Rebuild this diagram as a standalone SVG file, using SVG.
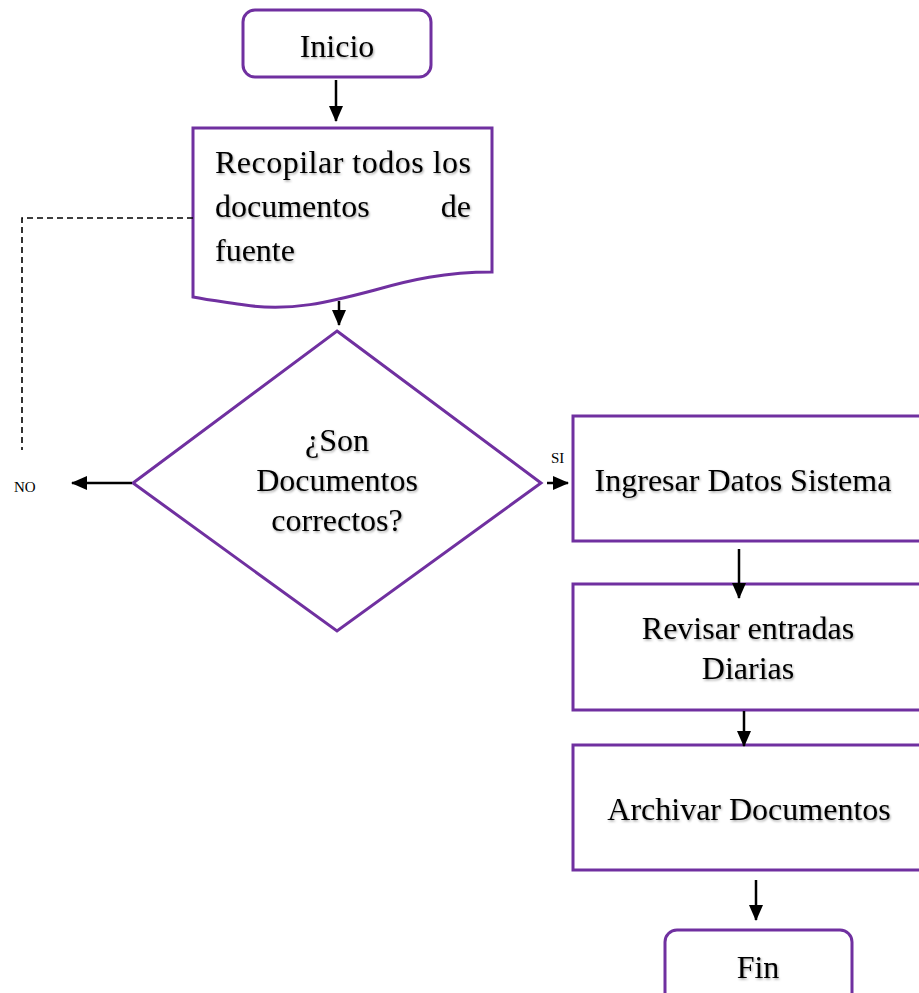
<svg xmlns="http://www.w3.org/2000/svg" width="919" height="993" viewBox="0 0 919 993">
<defs>
<marker id="ah" markerWidth="16" markerHeight="14" refX="15" refY="7" orient="auto" markerUnits="userSpaceOnUse"><path d="M0,0 L16,7 L0,14 Z" fill="#000"/></marker>
<filter id="sh" x="-10%" y="-10%" width="120%" height="130%"><feDropShadow dx="1" dy="1.5" stdDeviation="1" flood-color="#000" flood-opacity="0.35"/></filter>
</defs>
<style>
.n{fill:#fff;stroke:#7030A0;stroke-width:3}
.t{font-family:"Liberation Serif",serif;font-size:32px;fill:#000;filter:url(#sh)}
.c{text-anchor:middle}
.s{font-family:"Liberation Serif",serif;font-size:15px;fill:#000}
.a{stroke:#000;stroke-width:2.5;fill:none;marker-end:url(#ah)}
</style>
<rect width="919" height="993" fill="#fff"/>
<g id="inicio">
<rect class="n" x="243" y="10" width="188" height="67" rx="12"/>
<text class="t c" x="337" y="57">Inicio</text>
</g>
<g id="recopilar">
<path class="n" d="M193,128 H492 V272 C445,272 410,280 375,290 C330,302 290,312 245,305 C225,302 208,300 193,297 Z"/>
<text class="t" x="215" y="173" textLength="256" lengthAdjust="spacing">Recopilar todos los</text>
<text class="t" x="215" y="217">documentos</text>
<text class="t" x="471" y="217" text-anchor="end">de</text>
<text class="t" x="215" y="261">fuente</text>
</g>
<g id="decision">
<path class="n" d="M337,331 L541,483 L337,631 L133,483 Z"/>
<text class="t c" x="337" y="451">¿Son</text>
<text class="t c" x="337" y="491">Documentos</text>
<text class="t c" x="337" y="531">correctos?</text>
</g>
<g id="no-label"><text class="s" x="14" y="492">NO</text></g>
<g id="si-label"><text class="s" x="551" y="463">SI</text></g>
<g id="ingresar">
<rect class="n" x="573" y="416" width="360" height="125"/>
<text class="t c" x="743" y="491">Ingresar Datos Sistema</text>
</g>
<g id="revisar">
<rect class="n" x="573" y="584" width="360" height="126"/>
<text class="t c" x="748" y="639">Revisar entradas</text>
<text class="t c" x="748" y="679">Diarias</text>
</g>
<g id="archivar">
<rect class="n" x="573" y="745" width="360" height="125"/>
<text class="t c" x="749" y="820">Archivar Documentos</text>
</g>
<g id="fin">
<rect class="n" x="665" y="930" width="187" height="80" rx="12"/>
<text class="t c" x="758" y="978">Fin</text>
</g>
<g id="connectors">
<path class="a" d="M336,80 V121"/>
<path d="M193,218 H22 V450" stroke="#000" stroke-width="1.6" stroke-dasharray="6,4" fill="none"/>
<path class="a" d="M339,301 V325"/>
<path class="a" d="M132,483 H72"/>
<path class="a" d="M547,483 H568"/>
<path class="a" d="M739,549 V598"/>
<path class="a" d="M744,711 V746"/>
<path class="a" d="M756,880 V920"/>
</g>
</svg>
